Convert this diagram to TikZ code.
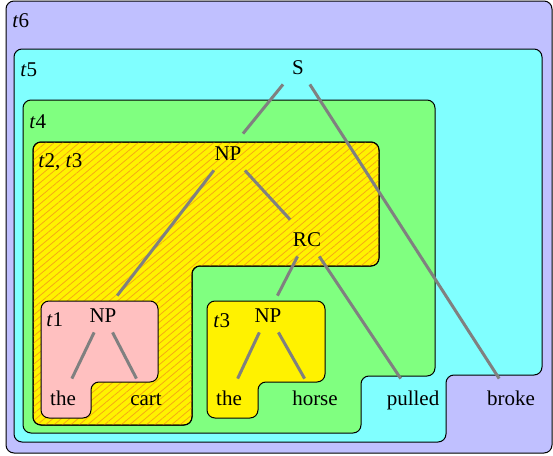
\documentclass[tikz,border=0pt]{standalone}
\usepackage{fontspec}
\setmainfont{Liberation Serif}
\usepackage{tikz}
\usetikzlibrary{patterns.meta}

\definecolor{lavend}{RGB}{192,192,255}
\definecolor{aqua}{RGB}{128,255,255}
\definecolor{lgreen}{RGB}{128,255,128}
\definecolor{lpink}{RGB}{255,192,192}
\definecolor{hatchor}{RGB}{245,170,20}

\newcommand{\tlab}[1]{\textit{t}#1}

\tikzset{
  region/.style={draw=black,line width=0.5pt,rounded corners=4pt},
  treenode/.style={inner sep=0pt,minimum width=18pt,minimum height=18pt,
    text height=8pt,text depth=0pt,font=\fontsize{10.5}{12}\selectfont},
  tlabel/.style={anchor=base west,inner sep=0pt,font=\fontsize{10.5}{12}\selectfont},
  branch/.style={draw=gray,line width=1.5pt}
}

\begin{document}
\begin{tikzpicture}[x=0.5pt,y=-0.5pt]
\useasboundingbox (0,0) rectangle (553,456);
% nested regions
\draw[region,fill=lavend] (6,1) rectangle (552,453);
\draw[region,fill=aqua] (14,49) -- (542,49) -- (542,375) -- (446,375) -- (446,442) -- (14,442) -- cycle;
\draw[region,fill=lgreen] (23,100) -- (435,100) -- (435,376) -- (361,376) -- (361,433) -- (23,433) -- cycle;
\draw[region,fill=yellow] (33,142) -- (379,142) -- (379,266) -- (192,266) -- (192,425) -- (33,425) -- cycle;
\fill[pattern={Lines[angle=40,distance=2.7pt,line width=0.4pt]},pattern color=hatchor,rounded corners=4pt]
  (33,142) -- (379,142) -- (379,266) -- (192,266) -- (192,425) -- (33,425) -- cycle;
\draw[region] (33,142) -- (379,142) -- (379,266) -- (192,266) -- (192,425) -- (33,425) -- cycle;
\draw[region,fill=lpink] (41,301) -- (158,301) -- (158,382) -- (91,382) -- (91,418) -- (41,418) -- cycle;
\draw[region,fill=yellow] (207,301) -- (325,301) -- (325,382) -- (258,382) -- (258,418) -- (207,418) -- cycle;

% region labels
\node[tlabel] (l6) at (12,27) {\tlab{6}};
\node[tlabel] (l5) at (20,76) {\tlab{5}};
\node[tlabel] (l4) at (29,128) {\tlab{4}};
\node[tlabel] (l23) at (38,167) {\tlab{2}, \tlab{3}};
\node[tlabel] (l1) at (46,326) {\tlab{1}};
\node[tlabel] (l3) at (213,327) {\tlab{3}};

% tree
\node[treenode] (s) at (298,66) {S};
\node[treenode] (np) at (228,152) {NP};
\node[treenode] (rc) at (307,238) {RC};
\node[treenode] (npa) at (103,314) {NP};
\node[treenode] (thea) at (63,397) {the};
\node[treenode] (cart) at (146,397) {cart};
\node[treenode] (npb) at (268,314) {NP};
\node[treenode] (theb) at (229,397) {the};
\node[treenode] (horse) at (315,397) {horse};
\node[treenode] (pulled) at (413,397) {pulled};
\node[treenode] (broke) at (511,397) {broke};

\draw[branch] (s) -- (np);
\draw[branch] (s) -- (broke);
\draw[branch] (np) -- (npa);
\draw[branch] (np) -- (rc);
\draw[branch] (rc) -- (npb);
\draw[branch] (rc) -- (pulled);
\draw[branch] (npa) -- (thea);
\draw[branch] (npa) -- (cart);
\draw[branch] (npb) -- (theb);
\draw[branch] (npb) -- (horse);
\end{tikzpicture}
\end{document}
